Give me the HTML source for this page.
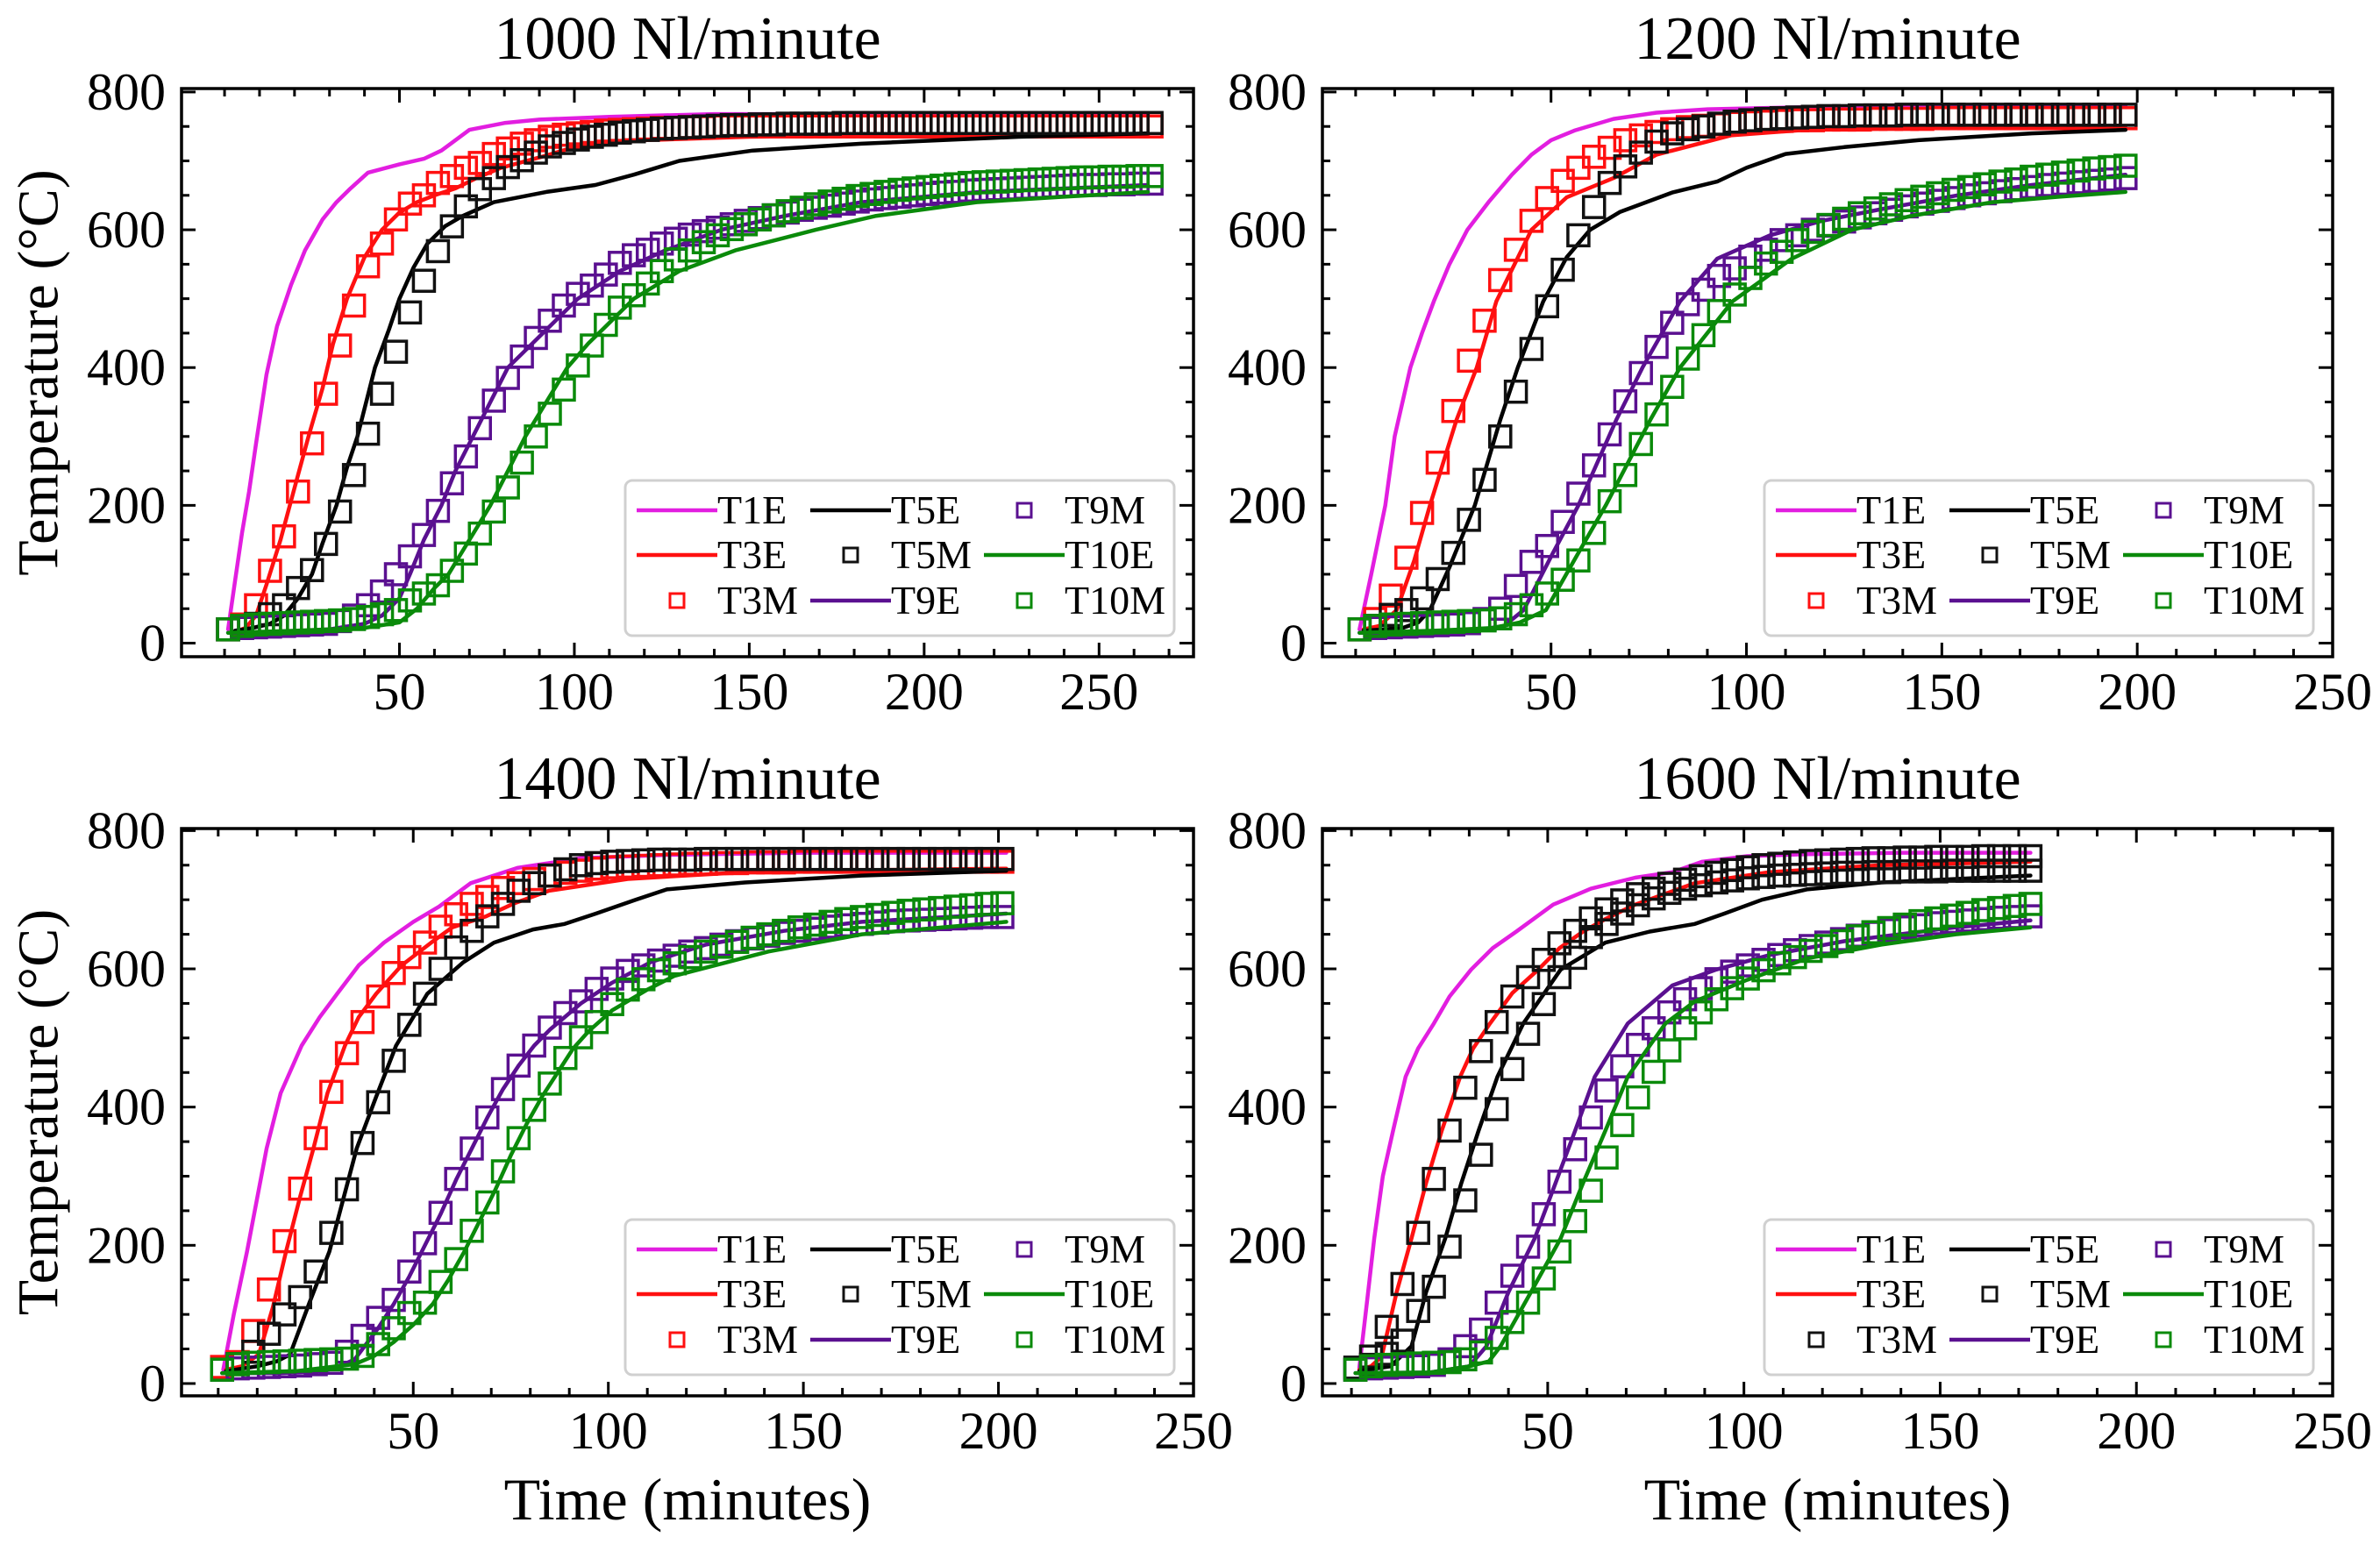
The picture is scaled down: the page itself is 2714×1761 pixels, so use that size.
<!DOCTYPE html>
<html><head><meta charset="utf-8"><title>Temperature curves</title>
<style>
html,body{margin:0;padding:0;background:#fff;}
svg{display:block;font-family:"Liberation Serif","DejaVu Serif",serif;}
</style></head>
<body>
<svg id="fig" xmlns="http://www.w3.org/2000/svg" width="2714" height="1761" viewBox="0 0 2714 1761"></svg>
<script>
// ---------- marker sampling (minutes) ----------
const MARKER_START = 1;
const MARKER_STEP = 4;
const xTickLabels = [50, 100, 150, 200, 250];
const yTickLabels = [0, 200, 400, 600, 800];
const panelTitles = ["1000 Nl/minute", "1200 Nl/minute", "1400 Nl/minute", "1600 Nl/minute"];

// ---------- 1000 Nl/minute ----------
const a_T1E_t = [1,3,5,7,9,12,15,19,23,28,32,36,41,50,57,62,66,70,80,90,110,140,180,220,264];
const a_T1E_v = [20,90,160,220,290,390,460,520,570,615,640,660,683,695,703,715,730,745,755,760,764,768,768,768,768];
const a_T3E_t = [2,6,9,12,16,20,24,28,31,35,40,45,50,55,60,66,72,79,90,100,120,150,200,264];
const a_T3E_v = [15,22,40,85,150,225,300,370,434,500,560,600,625,640,650,660,675,690,705,720,730,735,738,738];
const a_T5E_t = [3,8,13,17,21,25,28,32,35,38,43,47,50,54,58,63,68,77,92,106,117,130,151,182,227,264];
const a_T5E_v = [18,22,28,40,65,100,145,200,255,300,400,455,500,545,580,605,620,640,655,665,680,700,715,725,735,740];
const a_T9E_t = [1,10,20,30,40,45,50,53,57,62,66,71,76,81,87,93,101,113,126,142,160,182,216,264];
const a_T9E_v = [15,15,17,20,28,40,65,100,150,200,250,300,350,400,430,460,500,540,570,600,620,640,655,665];
const a_T10E_t = [1,20,40,50,55,60,64,70,76,81,86,92,98,104,109,117,130,146,169,186,215,240,264];
const a_T10E_v = [15,18,22,30,50,80,100,150,200,250,300,350,400,435,460,500,540,570,600,620,640,648,655];
const a_T3M = [20,27,55,105,155,220,290,362,432,490,547,580,615,638,650,668,678,690,697,710,718,725,730,735,738,740,742,744,745,746,747,748,748,749,749,750,750,750,750,750,750,750,750,750,750,750,750,750,750,750,750,750,750,750,750,750,750,750,750,750,750,750,750,750,750,750,750];
const a_T5M = [20,22,28,42,55,80,106,144,191,244,304,362,423,480,526,569,605,634,659,675,691,701,712,721,726,731,735,738,741,743,745,747,748,749,750,751,752,752,753,753,754,754,754,754,755,755,755,755,755,755,755,755,755,755,755,755,755,755,755,755,755,755,755,755,755,755,755];
const a_T9M = [20,22,23,24,25,26,27,28,32,40,55,75,100,126,157,192,232,271,312,352,385,416,443,468,490,507,519,535,552,563,571,580,587,593,598,603,608,613,617,621,625,629,632,635,638,641,644,646,648,650,652,654,655,657,658,659,660,661,662,663,664,665,665,666,666,667,667];
const a_T10M = [20,25,27,28,29,30,31,32,33,35,38,42,48,62,72,84,105,130,159,191,226,262,300,333,368,403,432,462,487,505,522,540,557,570,582,592,601,608,615,621,627,632,637,641,645,649,652,655,658,660,662,664,666,668,669,670,671,672,673,674,675,676,676,677,677,678,678];

// ---------- 1200 Nl/minute ----------
const b_T1E_t = [1,4,7.6,10,14,17,20,24,28.6,34,40,45,50,56,66,77,90,115,150,197];
const b_T1E_v = [20,100,200,300,400,450,496,550,600,640,680,709,730,744,761,770,775,778,780,780];
const b_T3E_t = [2,6,10.5,15,19,25.8,31,36,45,54,66,77,96,115,150,197];
const b_T3E_v = [20,25,48,120,200,324,400,496,600,647,675,709,737,745,748,748];
const b_T5E_t = [2,12,16,19,24,30.5,37,41.5,48,54,60,67.7,81,92.5,100,110,125,144,173,197];
const b_T5E_v = [18,22,30,48,110,200,324,400,496,560,600,626,654,670,690,710,720,730,740,745];
const b_T9E_t = [1,15,30,38,43,50.5,57,66.7,73.4,83,92.5,106,119.3,134.6,154,173,197];
const b_T9E_v = [15,15,18,25,48,131,200,324,400,496,558,592,613,630,650,665,680];
const b_T10E_t = [1,20,35,42,48.7,57,64,75.4,83,96.4,111.6,127,142,163,180,197];
const b_T10E_v = [15,18,22,30,48,131,200,324,400,496,558,600,620,640,648,655];
const b_T3M = [20,35,69,124,189,262,337,410,468,527,571,613,646,671,690,706,719,730,737,742,746,749,751,753,755,756,757,758,759,759,760,760,760,761,761,761,761,762,762,762,762,762,762,762,762,762,762,762,762,762];
const b_T5M = [20,25,41,48,65,93,131,179,237,300,365,427,489,542,592,633,668,692,712,728,740,746,750,754,757,759,761,762,763,764,765,765,766,766,766,767,767,767,767,767,767,767,767,767,767,767,767,767,767,767];
const b_T9M = [20,22,23,24,25,26,27,29,35,50,83,118,141,176,217,258,303,351,392,430,465,492,513,533,544,561,571,585,592,600,606,612,618,624,629,634,638,642,646,650,653,656,659,662,665,667,669,671,673,675];
const b_T10M = [20,25,27,28,29,30,31,32,33,36,42,55,72,92,120,160,206,244,289,332,372,413,447,482,506,530,551,568,585,597,607,616,624,631,637,643,648,653,658,662,666,670,673,677,680,683,686,689,691,693];

// ---------- 1400 Nl/minute ----------
const c_T1E_t = [1.3,4,7.4,12.4,16,21.4,26,30.5,36,42.5,50,56.6,64.7,76.7,92.8,115,150,202];
const c_T1E_v = [20,100,191,340,420,489,530,564,605,638,668,690,724,746,760,765,768,768];
const c_T3E_t = [2,6,10.4,14,17.4,21,24.4,28,32.5,36,40.5,47,54.6,60,68.7,76,84.8,105,135,170,202];
const c_T3E_v = [20,25,42,110,191,270,340,420,489,530,564,605,638,660,676,695,713,730,740,743,745];
const c_T5E_t = [2,10,15,18.4,23.4,28.5,35.5,40.5,45.6,53.6,62.7,70.7,80.7,88.8,96.8,107,115,135,165,202];
const c_T5E_v = [18,25,32,42,117,191,340,415,489,564,609,638,657,665,680,700,715,725,735,742];
const c_T9E_t = [1,15,25,30,35,41,45,49,53,57,61,65,69,73,77,81,85,93,101,111,125,145,165,202];
const c_T9E_v = [15,15,17,22,35,80,115,155,200,245,295,340,385,426,460,489,512,550,580,610,635,655,668,680];
const c_T10E_t = [1,20,35,40,45,50,55,59,63,67,71,75,79,83,87,91,95,101,110,117,141,165,202];
const c_T10E_v = [15,18,28,40,60,85,115,150,190,235,280,330,375,415,450,485,510,540,570,590,625,650,668];
const c_T3M = [24,31,76,136,206,282,355,422,478,523,560,594,617,638,661,679,694,704,717,724,730,735,739,742,745,747,748,749,750,751,752,752,753,753,754,754,754,755,755,755,755,755,755,755,755,755,755,755,755,755,755];
const c_T5M = [20,28,46,72,100,125,162,218,281,348,407,467,519,564,600,631,655,676,694,713,724,735,744,750,753,755,756,757,758,758,758,759,759,759,759,759,759,759,759,759,759,759,759,759,759,759,759,759,759,759,759];
const c_T9M = [20,22,23,24,25,26,28,30,46,69,95,121,162,203,247,296,340,385,426,460,489,515,536,553,571,586,597,605,612,619,625,630,635,640,644,648,652,655,658,661,663,665,667,669,670,671,672,673,674,675,675];
const c_T10M = [20,28,30,31,32,33,34,35,36,40,57,80,102,117,147,180,221,262,307,355,396,434,471,501,523,549,570,585,598,608,617,625,632,639,645,650,655,660,664,668,672,675,678,681,684,686,688,690,692,694,695];

// ---------- 1600 Nl/minute ----------
const d_T1E_t = [2,4,5.8,8,10.6,13.8,17,21,25,30.5,36,42,51.4,61,72.3,81.8,89.4,100.8,116,140,173];
const d_T1E_v = [23,120,210,300,366,444,485,521,560,599,630,654,693,716,732,740,755,763,766,768,768];
const d_T3E_t = [2,5,7.7,11.5,15.3,19,23,27.7,31,35.3,41,47.6,53,59,65,72.3,87.5,106.5,135,173];
const d_T3E_v = [20,25,39,132,210,290,366,444,485,521,565,599,630,654,673,693,724,740,750,755];
const d_T5E_t = [2,10,15.3,19,23.9,28,32.4,37.2,43.8,53.3,64.7,76,87.5,95,104.6,116,135,173];
const d_T5E_v = [18,25,54,132,210,290,366,444,521,599,638,654,665,680,700,715,725,735];
const d_T9E_t = [1,20,30,34.4,40,46.7,52,57,62,70.4,81.8,93,106.5,125.5,154,173];
const d_T9E_v = [15,16,25,54,132,210,290,366,444,521,576,599,620,640,660,670];
const d_T10E_t = [1,20,30,35,38,45.7,53.3,59,64.7,70.4,80,87.5,100.8,116,135,154,173];
const d_T10E_v = [15,16,25,32,54,132,210,290,366,444,521,553,584,615,635,650,660];
const d_T3M = [23,39,82,144,218,296,366,428,481,523,560,588,613,637,655,673,686,699,708,716,723,729,734,739,743,747,750,752,754,756,757,758,759,760,760,761,761,762,762,762,763,763,763,763];
const d_T5M = [20,27,43,62,105,140,198,265,331,397,455,506,549,588,616,646,665,680,692,702,710,716,721,725,728,731,733,735,736,737,738,739,739,740,740,741,741,741,742,742,742,742,742,742];
const d_T9M = [20,22,23,24,25,27,35,54,78,117,156,198,245,292,339,385,424,459,490,514,537,556,572,585,596,605,613,620,627,633,638,643,648,652,656,660,663,666,668,670,672,674,675,676];
const d_T10M = [20,25,27,28,29,30,31,35,45,66,89,117,152,191,235,279,327,374,414,451,482,514,537,556,572,586,598,608,617,626,633,640,647,653,659,664,669,673,677,681,685,688,691,694];

// ---------- styling ----------
const C = {T1E:'#e21ee0', T3E:'#ff1010', T5E:'#000000', T9E:'#5a1090', T10E:'#0a8a0a',
           T3M:'#ff1010', T5M:'#111111', T9M:'#5a1090', T10M:'#0a8a0a'};

const PANELS = [
 {key:'p1000', title:panelTitles[0], x0:207, x1:1361, y0:101, y1:749, xmin:-12.3, xmax:277, ymin:-19.7, ymax:805, ylab:true, xlab:false,
  lines:[['T1E',a_T1E_t,a_T1E_v],['T3E',a_T3E_t,a_T3E_v],['T5E',a_T5E_t,a_T5E_v],['T9E',a_T9E_t,a_T9E_v],['T10E',a_T10E_t,a_T10E_v]],
  marks:[['T3M',a_T3M,C.T3M],['T5M',a_T5M,C.T5M],['T9M',a_T9M,C.T9M],['T10M',a_T10M,C.T10M]]},
 {key:'p1200', title:panelTitles[1], x0:1508, x1:2660, y0:101, y1:749, xmin:-8.5, xmax:250, ymin:-19.7, ymax:805, ylab:false, xlab:false,
  lines:[['T1E',b_T1E_t,b_T1E_v],['T3E',b_T3E_t,b_T3E_v],['T5E',b_T5E_t,b_T5E_v],['T9E',b_T9E_t,b_T9E_v],['T10E',b_T10E_t,b_T10E_v]],
  marks:[['T3M',b_T3M,C.T3M],['T5M',b_T5M,C.T5M],['T9M',b_T9M,C.T9M],['T10M',b_T10M,C.T10M]]},
 {key:'p1400', title:panelTitles[2], x0:207, x1:1361, y0:945, y1:1592, xmin:-9.4, xmax:250, ymin:-17.8, ymax:803, ylab:true, xlab:true,
  lines:[['T1E',c_T1E_t,c_T1E_v],['T3E',c_T3E_t,c_T3E_v],['T5E',c_T5E_t,c_T5E_v],['T9E',c_T9E_t,c_T9E_v],['T10E',c_T10E_t,c_T10E_v]],
  marks:[['T3M',c_T3M,C.T3M],['T5M',c_T5M,C.T5M],['T9M',c_T9M,C.T9M],['T10M',c_T10M,C.T10M]]},
 {key:'p1600', title:panelTitles[3], x0:1508, x1:2660, y0:945, y1:1592, xmin:-7.4, xmax:250, ymin:-17.8, ymax:803, ylab:false, xlab:true,
  lines:[['T1E',d_T1E_t,d_T1E_v],['T3E',d_T3E_t,d_T3E_v],['T5E',d_T5E_t,d_T5E_v],['T9E',d_T9E_t,d_T9E_v],['T10E',d_T10E_t,d_T10E_v]],
  marks:[['T3M',d_T3M,'#111111'],['T5M',d_T5M,C.T5M],['T9M',d_T9M,C.T9M],['T10M',d_T10M,C.T10M]]}
];

const NS = 'http://www.w3.org/2000/svg';
const svg = document.getElementById('fig');
function mk(tag, attrs, parent){
  const e = document.createElementNS(NS, tag);
  for (const k in attrs) e.setAttribute(k, attrs[k]);
  (parent||svg).appendChild(e);
  return e;
}

PANELS.forEach((p, pi) => {
  const g = mk('g', {});
  
  
  const sx = t => p.x0 + (t - p.xmin) / (p.xmax - p.xmin) * (p.x1 - p.x0);
  const sy = v => p.y1 - (v - p.ymin) / (p.ymax - p.ymin) * (p.y1 - p.y0);

  const cp = mk('clipPath', {id:'clip' + pi}, g);
  mk('rect', {x:p.x0, y:p.y0, width:p.x1 - p.x0, height:p.y1 - p.y0}, cp);

  const tt = mk('text', {x:(p.x0 + p.x1)/2, y:p.y0 - 34, 'text-anchor':'middle', 'font-size':70, fill:'#000'}, g);
  tt.textContent = p.title;
  
  

  const tg = mk('g', {stroke:'#000', 'stroke-width':3}, g);
  for (let t = 0; t <= p.xmax; t += 10) {
    const x = sx(t);
    const major = xTickLabels.indexOf(t) >= 0;
    const L = major ? 16 : 9;
    mk('line', {x1:x, y1:p.y1, x2:x, y2:p.y1 - L}, tg);
    mk('line', {x1:x, y1:p.y0, x2:x, y2:p.y0 + L}, tg);
  }
  for (let v = 0; v <= 800; v += 50) {
    const y = sy(v);
    const major = v % 200 === 0;
    const L = major ? 16 : 9;
    mk('line', {x1:p.x0, y1:y, x2:p.x0 + L, y2:y}, tg);
    mk('line', {x1:p.x1, y1:y, x2:p.x1 - L, y2:y}, tg);
  }
  xTickLabels.forEach(t => {
    const e = mk('text', {x:sx(t), y:p.y1 + 60, 'text-anchor':'middle', 'font-size':60}, g);
    e.textContent = t;
    
    
  });
  yTickLabels.forEach(v => {
    const e = mk('text', {x:p.x0 - 18, y:sy(v) + 20, 'text-anchor':'end', 'font-size':60}, g);
    e.textContent = v;
    
    
  });

  const sg = mk('g', {'clip-path':'url(#clip' + pi + ')'}, g);
  const order = ['T1E','T3E','T3M','T5E','T5M','T9E','T9M','T10E','T10M'];
  order.forEach(name => {
    const ln = p.lines.find(l => l[0] === name);
    if (ln) {
      const pts = ln[1].map((t, i) => sx(t).toFixed(1) + ',' + sy(ln[2][i]).toFixed(1)).join(' ');
      const pl = mk('polyline', {points:pts, fill:'none', stroke:C[name], 'stroke-width':4.5, 'stroke-linejoin':'round', 'stroke-linecap':'round'}, sg);
      
      
    }
    const mkr = p.marks.find(m => m[0] === name);
    if (mkr) {
      const mg = mk('g', {fill:'none', stroke:mkr[2], 'stroke-width':3.5}, sg);
      
      
      mkr[1].forEach((v, i) => {
        const t = MARKER_START + MARKER_STEP * i;
        const r = mk('rect', {x:sx(t) - 12, y:sy(v) - 12, width:24, height:24}, mg);
        
        
      });
    }
  });

  const fr = mk('rect', {x:p.x0, y:p.y0, width:p.x1 - p.x0, height:p.y1 - p.y0, fill:'none', stroke:'#000', 'stroke-width':3.5}, g);
  
  

  const lx = p.x1 - 648, ly = p.y1 - 201;
  const lg = mk('g', {}, g);
  
  
  mk('rect', {x:lx, y:ly, width:626, height:177, rx:8, fill:'#fff', 'fill-opacity':0.85, stroke:'#d0d0d0', 'stroke-width':3}, lg);
  const cols = [[['T1E','l'],['T3E','l'],['T3M','m']],[['T5E','l'],['T5M','m'],['T9E','l']],[['T9M','m'],['T10E','l'],['T10M','m']]];
  const colX = [13, 211, 409];
  const rowY = [34, 85, 137];
  cols.forEach((col, ci) => col.forEach((ent, ri) => {
    const [nm, kind] = ent;
    const x0 = lx + colX[ci], y = ly + rowY[ri];
    const eg = mk('g', {}, lg);
    
    
    let col2 = C[nm];
    if (nm === 'T3M' && p.key === 'p1600') col2 = '#111111';
    if (kind === 'l') mk('line', {x1:x0, y1:y, x2:x0 + 92, y2:y, stroke:col2, 'stroke-width':4.5}, eg);
    else mk('rect', {x:x0 + 46 - 8, y:y - 8, width:16, height:16, fill:'none', stroke:col2, 'stroke-width':3}, eg);
    const te = mk('text', {x:x0 + 92, y:y + 15, 'font-size':46}, eg);
    te.textContent = nm;
  }));

  if (p.ylab) {
    const cy = (p.y0 + p.y1) / 2;
    const yl = mk('text', {x:44, y:cy, 'text-anchor':'middle', 'font-size':66, transform:'rotate(-90 44 ' + cy + ')', 'dominant-baseline':'central'}, g);
    yl.textContent = 'Temperature (°C)';
    
    
  }
  if (p.xlab) {
    const xl = mk('text', {x:(p.x0 + p.x1)/2, y:1733, 'text-anchor':'middle', 'font-size':68}, g);
    xl.textContent = 'Time (minutes)';
    
    
  }
});
</script>
</body></html>
